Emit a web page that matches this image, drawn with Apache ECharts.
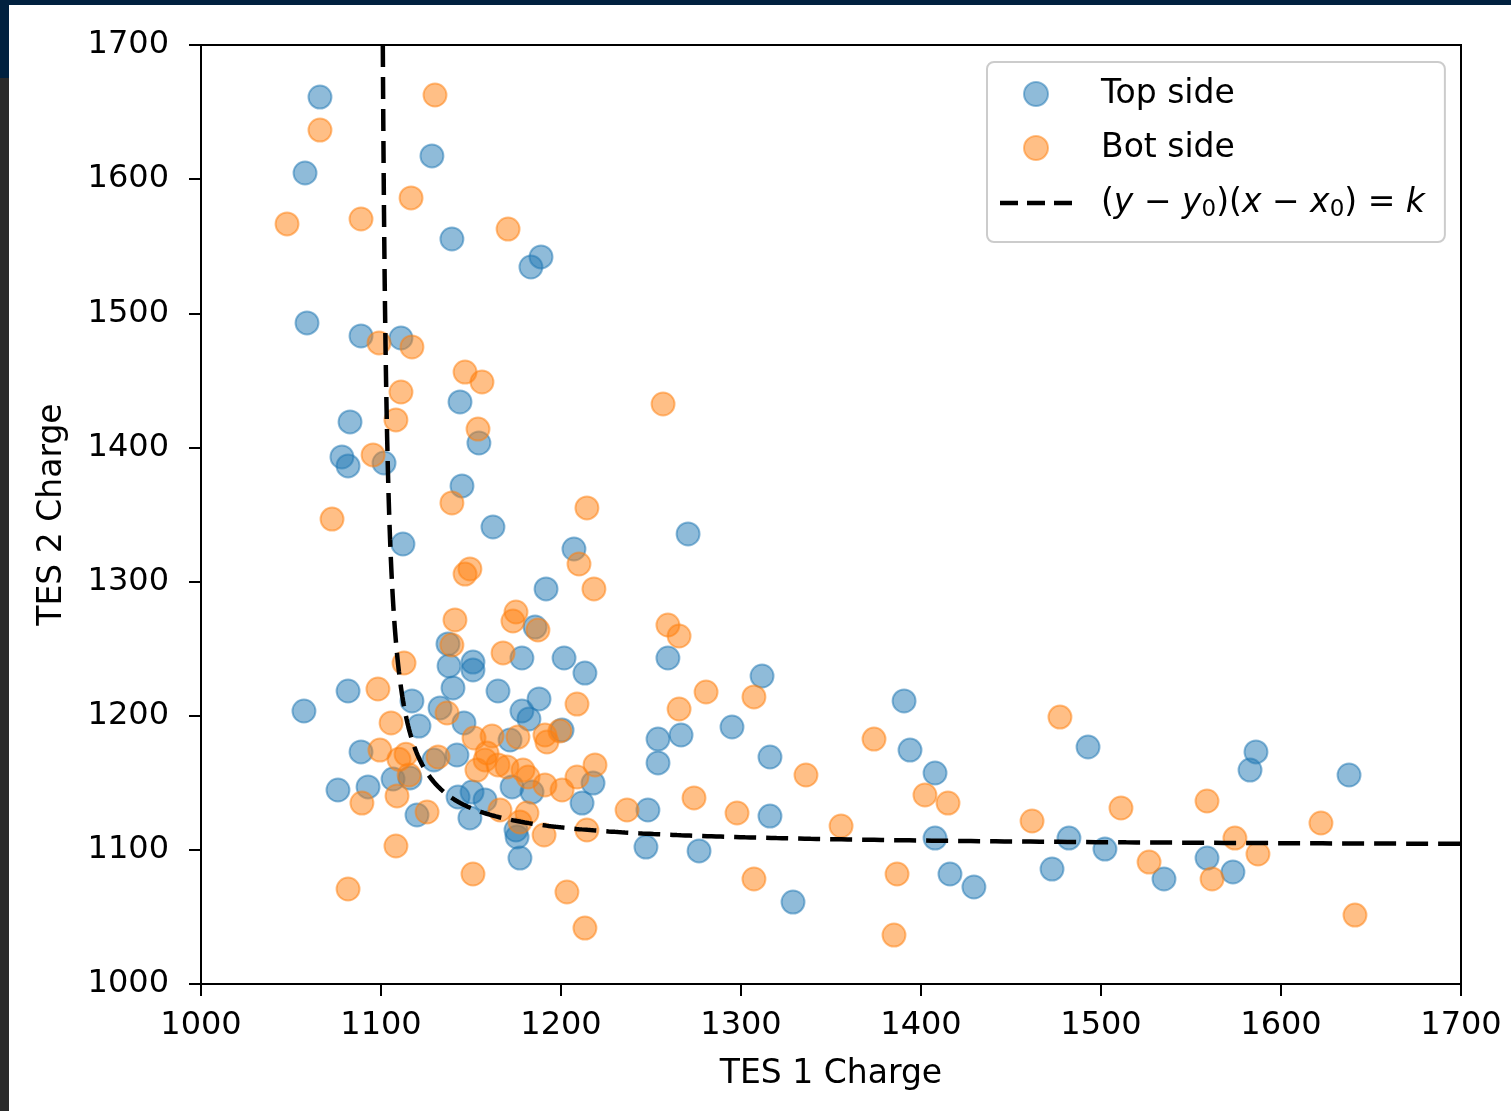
<!DOCTYPE html>
<html>
<head>
<meta charset="utf-8">
<title>TES charge correlation</title>
<script src="https://cdn.jsdelivr.net/npm/echarts@6/dist/echarts.min.js"></script>
<style>
  html, body { margin: 0; padding: 0; background: #ffffff; }
  #chart { position: absolute; left: 0; top: 0; width: 1511px; height: 1111px; }
  .bar-top { position: absolute; left: 0; top: 0; width: 1511px; height: 5px; background: #01213f; z-index: 2; }
  .bar-left-a { position: absolute; left: 0; top: 0; width: 9px; height: 78px; background: #01213f; z-index: 2; }
  .bar-left-b { position: absolute; left: 0; top: 78px; width: 9px; height: 1033px; background: #2a2a2a; z-index: 2; }
</style>
</head>
<body>
<div class="bar-top"></div>
<div class="bar-left-a"></div>
<div class="bar-left-b"></div>
<div id="chart"></div>
<script>
// TES 1 / TES 2 charge pairs, events from the top side
const topSideX = [
  1066.1, 1057.8, 1128.3, 1139.4, 1188.9, 1183.3, 1058.9, 1088.9, 1111.1, 1143.9,
  1082.8, 1154.4, 1078.3, 1081.7, 1101.7, 1145.0, 1162.2, 1112.2, 1207.2, 1191.7,
  1270.6, 1185.6, 1137.2, 1137.8, 1151.1, 1151.1, 1178.3, 1201.7, 1259.4, 1213.3,
  1311.7, 1057.2, 1081.7, 1117.2, 1140.0, 1165.0, 1187.8, 1178.3, 1182.2, 1390.6,
  1295.0, 1266.7, 1253.9, 1253.9, 1316.1, 1393.9, 1492.8, 1586.1, 1582.8, 1637.8,
  1407.8, 1132.8, 1121.1, 1146.1, 1088.9, 1076.1, 1092.8, 1106.7, 1120.0, 1142.2,
  1142.8, 1150.6, 1149.4, 1157.8, 1172.8, 1183.9, 1217.8, 1211.7, 1175.6, 1175.0,
  1177.2, 1248.3, 1247.2, 1276.7, 1316.1, 1328.9, 1407.8, 1416.1, 1429.4, 1472.8,
  1482.2, 1502.2, 1535.0, 1558.9, 1573.3, 1129.4, 1116.1, 1171.7, 1200.6
];
const topSideY = [
  1661.2, 1604.6, 1617.3, 1555.4, 1542.0, 1534.5, 1492.8, 1483.1, 1481.6, 1433.9,
  1419.0, 1403.3, 1392.9, 1386.2, 1388.4, 1371.3, 1340.7, 1328.0, 1324.3, 1294.5,
  1335.5, 1266.1, 1253.5, 1237.1, 1240.0, 1234.1, 1243.0, 1243.0, 1243.0, 1231.8,
  1229.6, 1203.5, 1218.4, 1211.0, 1220.7, 1218.4, 1212.5, 1203.5, 1197.6, 1211.0,
  1191.6, 1185.6, 1182.6, 1164.8, 1169.2, 1174.4, 1176.7, 1173.0, 1159.5, 1155.8,
  1157.3, 1205.8, 1192.3, 1194.6, 1173.0, 1144.6, 1146.9, 1152.8, 1126.0, 1170.7,
  1139.4, 1143.1, 1123.8, 1137.2, 1146.9, 1143.1, 1149.8, 1134.9, 1109.6, 1114.8,
  1093.9, 1129.7, 1102.1, 1099.2, 1125.2, 1061.1, 1108.8, 1082.0, 1072.3, 1085.7,
  1108.8, 1100.6, 1078.3, 1093.9, 1083.5, 1167.0, 1153.6, 1181.9, 1189.3
];

// TES 1 / TES 2 charge pairs, events from the bottom side
const botSideX = [
  1130.0, 1066.1, 1116.7, 1047.8, 1088.9, 1170.6, 1098.9, 1117.2, 1146.7, 1156.1,
  1111.1, 1108.3, 1153.9, 1095.6, 1256.7, 1139.4, 1214.4, 1072.8, 1210.0, 1149.4,
  1146.7, 1218.3, 1141.1, 1175.0, 1173.3, 1187.2, 1259.4, 1265.6, 1139.4, 1167.8,
  1112.8, 1098.3, 1280.6, 1307.2, 1208.9, 1265.6, 1136.7, 1105.6, 1477.2, 1373.9,
  1151.7, 1161.7, 1176.1, 1191.1, 1199.4, 1192.2, 1099.4, 1110.0, 1131.7, 1113.9,
  1115.6, 1089.4, 1108.9, 1125.6, 1153.3, 1158.9, 1157.8, 1165.0, 1170.0, 1178.9,
  1181.7, 1191.1, 1200.6, 1208.9, 1218.9, 1166.1, 1181.1, 1177.2, 1190.6, 1214.4,
  1236.7, 1203.3, 1213.3, 1151.1, 1108.3, 1081.7, 1273.9, 1297.8, 1355.6, 1336.1,
  1402.2, 1415.0, 1307.2, 1386.7, 1385.0, 1461.7, 1511.1, 1558.9, 1526.7, 1574.4,
  1587.2, 1561.7, 1622.2, 1641.1
];
const botSideY = [
  1662.7, 1636.6, 1586.0, 1566.6, 1570.3, 1562.8, 1477.9, 1474.9, 1456.2, 1448.8,
  1441.3, 1420.5, 1413.7, 1394.4, 1432.4, 1358.6, 1354.9, 1346.6, 1313.1, 1309.4,
  1305.6, 1294.5, 1271.4, 1277.3, 1270.6, 1263.9, 1267.6, 1259.4, 1252.7, 1246.8,
  1239.3, 1219.9, 1217.7, 1214.0, 1208.7, 1205.0, 1202.0, 1194.6, 1199.0, 1182.6,
  1183.4, 1184.9, 1184.1, 1185.6, 1188.6, 1180.4, 1174.4, 1167.5, 1169.2, 1171.2,
  1155.8, 1134.9, 1140.2, 1128.2, 1159.5, 1172.2, 1167.0, 1163.3, 1161.8, 1159.5,
  1154.3, 1148.4, 1144.6, 1154.3, 1163.3, 1129.7, 1127.5, 1120.8, 1111.1, 1114.8,
  1129.7, 1068.6, 1041.7, 1082.0, 1102.9, 1070.8, 1138.7, 1127.5, 1117.8, 1155.8,
  1140.9, 1134.9, 1078.3, 1082.0, 1036.5, 1121.5, 1131.2, 1136.4, 1090.9, 1108.8,
  1096.9, 1078.3, 1120.0, 1051.4
];

// Fitted hyperbola (y - y0)(x - x0) = k
const fitX0 = 1098.5;
const fitY0 = 1102;
const fitK = 1500;

// Axis ticks
const axisMin = 1000;
const axisMax = 1700;
const tickStep = 100;

const seriesNames = ['Top side', 'Bot side', '(y − y0)(x − x0) = k'];

function pairs(xs, ys) {
  return xs.map((x, i) => [x, ys[i]]);
}

// Sample the fitted curve between the top edge of the axes and the right edge
function fitCurve() {
  const pts = [];
  const dStart = fitK / (axisMax - fitY0);
  const dEnd = axisMax - fitX0;
  const n = 400;
  for (let i = 0; i <= n; i++) {
    const d = dStart * Math.pow(dEnd / dStart, i / n);
    pts.push([fitX0 + d, fitY0 + fitK / d]);
  }
  return pts;
}

const FONT = 'DejaVu Sans';
const blue = '#1f77b4';
const orange = '#ff7f0e';

const chart = echarts.init(document.getElementById('chart'), null, { renderer: 'canvas' });

function axisCommon() {
  return {
    type: 'value',
    min: axisMin,
    max: axisMax,
    interval: tickStep,
    splitLine: { show: false },
    axisLine: { show: true, onZero: false, lineStyle: { color: '#000', width: 2 } },
    axisTick: { show: true, inside: false, length: 12, lineStyle: { color: '#000', width: 2 } },
    nameLocation: 'middle',
    nameTextStyle: { fontFamily: FONT, fontSize: 33, color: '#000' }
  };
}

const plainNumber = v => String(v);

const option = {
  backgroundColor: 'transparent',
  animation: false,
  grid: { left: 201, top: 45, width: 1260, height: 939, show: true, borderColor: '#000', borderWidth: 2, containLabel: false },
  xAxis: Object.assign(axisCommon(), {
    name: 'TES 1 Charge',
    nameGap: 74,
    axisLabel: { fontFamily: FONT, fontSize: 32, color: '#000', margin: 26, formatter: plainNumber }
  }),
  yAxis: Object.assign(axisCommon(), {
    name: 'TES 2 Charge',
    nameGap: 132,
    nameRotate: 90,
    axisLabel: { fontFamily: FONT, fontSize: 32, color: '#000', margin: 32, formatter: plainNumber }
  }),
  legend: {
    orient: 'vertical',
    left: 987,
    top: 62,
    padding: [14, 20, 20, 13],
    itemWidth: 72,
    itemHeight: 24,
    itemGap: 18,
    backgroundColor: 'rgba(255,255,255,0.8)',
    borderColor: '#cccccc',
    borderWidth: 2,
    borderRadius: 7,
    selectedMode: false,
    data: [
      { name: seriesNames[0], icon: 'circle' },
      { name: seriesNames[1], icon: 'circle' },
      { name: seriesNames[2], icon: 'path://M0,0h18v4.5h-18z M27,0h18v4.5h-18z M54,0h18v4.5h-18z', itemStyle: { color: '#000', opacity: 1 } }
    ],
    textStyle: {
      fontFamily: FONT,
      fontSize: 33,
      color: '#000',
      lineHeight: 36,
      padding: [0, 0, 0, 24],
      rich: {
        i: { fontFamily: FONT, fontSize: 33, fontStyle: 'italic', color: '#000', lineHeight: 38 },
        n: { fontFamily: FONT, fontSize: 33, color: '#000', lineHeight: 38 },
        s: { fontFamily: FONT, fontSize: 23, color: '#000', lineHeight: 16, verticalAlign: 'bottom' }
      }
    },
    formatter: function (name) {
      if (name === seriesNames[2]) {
        return '{n|(}{i|y}{n| − }{i|y}{s|0}{n|)(}{i|x}{n| − }{i|x}{s|0}{n|) = }{i|k}';
      }
      return name;
    }
  },
  series: [
    {
      name: seriesNames[0],
      type: 'scatter',
      data: pairs(topSideX, topSideY),
      symbol: 'circle',
      symbolSize: 23,
      itemStyle: { color: blue, opacity: 0.5, borderColor: blue, borderWidth: 2 },
      z: 2
    },
    {
      name: seriesNames[1],
      type: 'scatter',
      data: pairs(botSideX, botSideY),
      symbol: 'circle',
      symbolSize: 23,
      itemStyle: { color: orange, opacity: 0.5, borderColor: orange, borderWidth: 2 },
      z: 3
    },
    {
      name: seriesNames[2],
      type: 'line',
      data: fitCurve(),
      showSymbol: false,
      symbol: 'none',
      clip: true,
      lineStyle: { color: '#000', width: 4.5, type: [22, 10] },
      itemStyle: { color: '#000' },
      z: 4
    }
  ]
};

chart.setOption(option);
</script>
</body>
</html>
